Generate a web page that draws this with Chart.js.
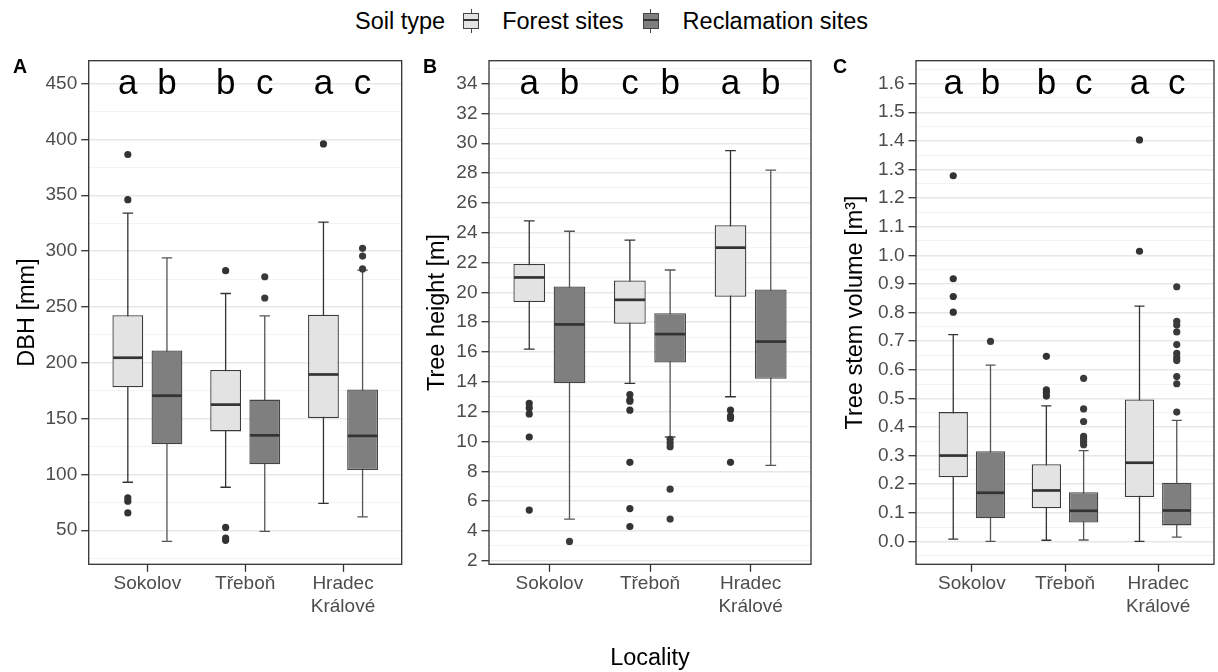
<!DOCTYPE html>
<html>
<head>
<meta charset="utf-8">
<script src="https://cdn.jsdelivr.net/npm/chart.js@4.4.1/dist/chart.umd.min.js"></script>
<style>
  body { margin: 0; background: #fff; width: 1218px; height: 672px; position: relative; overflow: hidden;
         font-family: "Liberation Sans", Arial, sans-serif; }
  canvas { position: absolute; top: 0; }
  #legend { position: absolute; top: 6px; left: 355px; height: 30px; display: flex; align-items: center;
            font-size: 23.5px; color: #000; white-space: nowrap; }
  .key { position: relative; display: inline-block; width: 16px; height: 24px; }
  .key .wh { position: absolute; left: 7.5px; top: 0; width: 1.2px; height: 24px; background: #444; }
  .key .bx { position: absolute; left: 0; top: 4px; width: 14px; height: 14px; border: 1px solid #444; }
  .key .md { position: absolute; left: 0; top: 10px; width: 16px; height: 2.4px; background: #333; }
  #xtitle { position: absolute; left: 650px; top: 643px; transform: translateX(-50%);
            font-size: 23.5px; line-height: 28px; color: #000; }
</style>
</head>
<body>
<div id="legend">
  <span>Soil type</span>
  <span class="key" style="margin-left:18px"><i class="wh"></i><i class="bx" style="background:#e3e3e3"></i><i class="md"></i></span>
  <span style="margin-left:23px">Forest sites</span>
  <span class="key" style="margin-left:19px"><i class="wh"></i><i class="bx" style="background:#7f7f7f"></i><i class="md"></i></span>
  <span style="margin-left:24px">Reclamation sites</span>
</div>
<canvas id="chartA" width="410" height="672" style="left:0"></canvas>
<canvas id="chartB" width="405" height="672" style="left:410px"></canvas>
<canvas id="chartC" width="403" height="672" style="left:815px"></canvas>
<div id="xtitle">Locality</div>
<script>
const localities = ['Sokolov', 'Třeboň', 'Hradec Králové'];
const soilTypes = ['Forest sites', 'Reclamation sites'];

// box stats per locality: [lower whisker, Q1, median, Q3, upper whisker]
const dbhForest = [[93, 178, 204.5, 242.5, 334], [88.5, 138.5, 162.5, 193.5, 262], [74, 150.5, 189.5, 243, 326]];
const dbhReclam = [[40, 127, 170.5, 211, 294], [49, 109, 135, 167, 242], [62, 104, 134.5, 176, 283]];
const dbhForestOut = [[386.5, 346, 79, 76, 65.5], [282.5, 52.5, 43, 41], [396]];
const dbhReclamOut = [[], [277, 258], [302.5, 295.5, 284]];
const dbhLetters = [['a', 'b'], ['b', 'c'], ['a', 'c']];
const dbhTicks = [50, 100, 150, 200, 250, 300, 350, 400, 450];

const heightForest = [[16.2, 19.35, 21.0, 21.9, 24.8], [13.9, 17.9, 19.5, 20.8, 23.5], [13.0, 19.7, 23.0, 24.5, 29.5]];
const heightReclam = [[4.8, 13.9, 17.85, 20.4, 24.1], [10.3, 15.3, 17.2, 18.6, 21.5], [8.4, 14.2, 16.7, 20.2, 28.2]];
const heightForestOut = [[12.55, 12.25, 11.85, 10.3, 5.4], [13.15, 12.8, 12.7, 12.1, 8.6, 5.5, 4.3], [12.1, 11.7, 11.55, 8.6]];
const heightReclamOut = [[3.3], [10.15, 9.9, 9.65, 6.8, 4.8], []];
const heightLetters = [['a', 'b'], ['c', 'b'], ['a', 'b']];
const heightTicks = [2, 4, 6, 8, 10, 12, 14, 16, 18, 20, 22, 24, 26, 28, 30, 32, 34];

const volForest = [[0.008, 0.224, 0.300, 0.452, 0.723], [0.004, 0.116, 0.178, 0.270, 0.474], [0.0, 0.155, 0.275, 0.496, 0.822]];
const volReclam = [[0.0, 0.081, 0.170, 0.315, 0.616], [0.005, 0.066, 0.107, 0.172, 0.317], [0.015, 0.056, 0.108, 0.205, 0.423]];
const volForestOut = [[1.278, 0.918, 0.856, 0.801], [0.647, 0.530, 0.520, 0.508], [1.403, 1.014]];
const volReclamOut = [[0.699], [0.570, 0.463, 0.419, 0.367, 0.358, 0.348, 0.338],
                      [0.890, 0.769, 0.756, 0.732, 0.688, 0.657, 0.642, 0.632, 0.576, 0.551, 0.452]];
const volLetters = [['a', 'b'], ['b', 'c'], ['a', 'c']];
const volTicks = [0.0, 0.1, 0.2, 0.3, 0.4, 0.5, 0.6, 0.7, 0.8, 0.9, 1.0, 1.1, 1.2, 1.3, 1.4, 1.5, 1.6];

Chart.defaults.font.family = '"Liberation Sans", Arial, sans-serif';

const GROUP = 0.8;          // dodge width of a locality
const DODGE = GROUP / 4;    // centre offset of each box
const PLOT_TOP = 60.7, PLOT_BOTTOM = 564.3;

// ggplot-like 5 % expansion
function expand(values) {
  const lo = Math.min(...values), hi = Math.max(...values), d = (hi - lo) * 0.05;
  return [lo - d, hi + d];
}

const boxPlugin = {
  id: 'boxes',
  beforeDatasetsDraw(chart) {
    const { ctx, scales: { y } } = chart;
    chart.data.datasets.forEach((ds, di) => {
      if (!ds.stats) return;
      chart.getDatasetMeta(di).data.forEach((bar, i) => {
        const s = ds.stats[i], cap = bar.width * 0.17;
        ctx.save();
        ctx.strokeStyle = ds.whiskerColor;
        ctx.lineWidth = 1.3;
        ctx.beginPath();
        ctx.moveTo(bar.x, y.getPixelForValue(s[4]));
        ctx.lineTo(bar.x, y.getPixelForValue(s[0]));
        [s[0], s[4]].forEach(v => {
          ctx.moveTo(bar.x - cap, y.getPixelForValue(v));
          ctx.lineTo(bar.x + cap, y.getPixelForValue(v));
        });
        ctx.stroke();
        ctx.restore();
      });
    });
  },
  afterDatasetsDraw(chart, args, opts) {
    const { ctx, scales: { y }, chartArea } = chart;
    chart.data.datasets.forEach((ds, di) => {
      if (!ds.stats) return;
      chart.getDatasetMeta(di).data.forEach((bar, i) => {
        const my = y.getPixelForValue(ds.stats[i][2]);
        ctx.save();
        ctx.strokeStyle = '#333';
        ctx.lineWidth = 2.7;
        ctx.beginPath();
        ctx.moveTo(bar.x - bar.width / 2 + 0.6, my);
        ctx.lineTo(bar.x + bar.width / 2 - 0.6, my);
        ctx.stroke();
        ctx.fillStyle = '#000';
        ctx.font = '35px "Liberation Sans", Arial, sans-serif';
        ctx.textAlign = 'center';
        ctx.textBaseline = 'middle';
        ctx.fillText(ds.letters[i], bar.x, y.getPixelForValue(opts.letterRow) + 1);
        ctx.restore();
      });
    });
    ctx.save();
    ctx.strokeStyle = '#333';
    ctx.lineWidth = 1.3;
    ctx.strokeRect(chartArea.left, chartArea.top, chartArea.right - chartArea.left, chartArea.bottom - chartArea.top);
    ctx.fillStyle = '#000';
    ctx.font = 'bold 19.5px "Liberation Sans", Arial, sans-serif';
    ctx.textBaseline = 'middle';
    ctx.fillText(opts.label, opts.labelX, 67.5);
    ctx.restore();
  }
};

function makePanel(p) {
  const all = [p.letterRow];
  p.forest.concat(p.reclam).forEach(s => all.push(s[0], s[4]));
  p.forestOut.concat(p.reclamOut).forEach(o => all.push(...o));
  const [yMin, yMax] = expand(all);
  const step = p.ticks[1] - p.ticks[0];
  const yTicks = [];
  p.ticks.forEach(v => {
    const m = +(v - step / 2).toFixed(6);
    if (m >= yMin) yTicks.push({ value: m, minor: true });
    yTicks.push({ value: v, minor: false });
  });
  const top = +(p.ticks[p.ticks.length - 1] + step / 2).toFixed(6);
  if (top <= yMax) yTicks.push({ value: top, minor: true });

  const outliers = (arr, off) => arr.flatMap((o, i) => o.map(v => ({ x: i + off, y: v })));
  const boxes = s => s.map((b, i) => ({ x: i, y: [b[1], b[3]] }));
  const canvas = document.getElementById(p.canvas);

  new Chart(canvas, {
    type: 'bar',
    data: {
      datasets: [
        { label: soilTypes[0], data: boxes(p.forest), stats: p.forest, letters: p.letters.map(l => l[0]),
          backgroundColor: '#e3e3e3', borderColor: '#3a3a3a', whiskerColor: '#333', borderWidth: 1.3,
          borderSkipped: false, categoryPercentage: GROUP, barPercentage: 0.7875 },
        { label: soilTypes[1], data: boxes(p.reclam), stats: p.reclam, letters: p.letters.map(l => l[1]),
          backgroundColor: '#7f7f7f', borderColor: '#444', whiskerColor: '#555', borderWidth: 1.3,
          borderSkipped: false, categoryPercentage: GROUP, barPercentage: 0.7875 },
        { type: 'scatter', data: outliers(p.forestOut, -DODGE), backgroundColor: '#333', borderWidth: 0, pointRadius: 3.6 },
        { type: 'scatter', data: outliers(p.reclamOut, DODGE), backgroundColor: '#3a3a3a', borderWidth: 0, pointRadius: 3.6 }
      ]
    },
    options: {
      responsive: false,
      animation: false,
      layout: { padding: { left: 0, top: PLOT_TOP, right: p.padRight, bottom: 0 } },
      plugins: {
        legend: { display: false },
        tooltip: { enabled: false },
        boxes: { label: p.label, labelX: p.labelX, letterRow: p.letterRow }
      },
      scales: {
        x: {
          type: 'linear', min: -0.6, max: 2.6, offset: false,
          border: { display: false },
          grid: { display: true, drawOnChartArea: false, offset: false, tickLength: 7.5, tickColor: '#333', tickWidth: 1.3 },
          ticks: { autoSkip: false, maxRotation: 0, minRotation: 0, padding: 1, color: '#4d4d4d', font: { size: 19 },
                   callback: v => localities[v].split(' ') },
          afterBuildTicks: s => { s.ticks = localities.map((_, i) => ({ value: i })); },
          afterFit: s => { s.height = canvas.height - PLOT_BOTTOM; }
        },
        y: {
          type: 'linear', min: yMin, max: yMax, beginAtZero: false,
          border: { display: false },
          title: { display: true, text: p.title, color: '#000', font: { size: 23.5 }, padding: { top: p.titlePad, bottom: 0 } },
          grid: {
            color: c => (c.tick && c.tick.minor) ? '#f3f3f3' : '#e8e8e8',
            lineWidth: c => (c.tick && c.tick.minor) ? 1 : 1.4,
            tickColor: c => (c.tick && c.tick.minor) ? 'rgba(0,0,0,0)' : '#333',
            tickLength: 7.5, tickWidth: 1.3
          },
          ticks: { autoSkip: false, padding: 4, color: '#4d4d4d', font: { size: 19 },
                   callback: (v, i, t) => t[i].minor ? '' : v.toFixed(p.decimals) },
          afterBuildTicks: s => { s.ticks = yTicks.map(t => ({ ...t })); },
          afterFit: s => { s.width = p.plotLeft; }
        }
      }
    },
    plugins: [boxPlugin]
  });
}

makePanel({ canvas: 'chartA', label: 'A', labelX: 13, title: 'DBH [mm]', titlePad: 13.4, plotLeft: 88.7, padRight: 8.3,
  forest: dbhForest, reclam: dbhReclam, forestOut: dbhForestOut, reclamOut: dbhReclamOut,
  letters: dbhLetters, ticks: dbhTicks, letterRow: 450, decimals: 0 });
makePanel({ canvas: 'chartB', label: 'B', labelX: 13, title: 'Tree height [m]', titlePad: 13.9, plotLeft: 79, padRight: 4,
  forest: heightForest, reclam: heightReclam, forestOut: heightForestOut, reclamOut: heightReclamOut,
  letters: heightLetters, ticks: heightTicks, letterRow: 34, decimals: 0 });
makePanel({ canvas: 'chartC', label: 'C', labelX: 18, title: 'Tree stem volume [m³]', titlePad: 26, plotLeft: 101, padRight: 3,
  forest: volForest, reclam: volReclam, forestOut: volForestOut, reclamOut: volReclamOut,
  letters: volLetters, ticks: volTicks, letterRow: 1.6, decimals: 1 });
</script>
</body>
</html>
